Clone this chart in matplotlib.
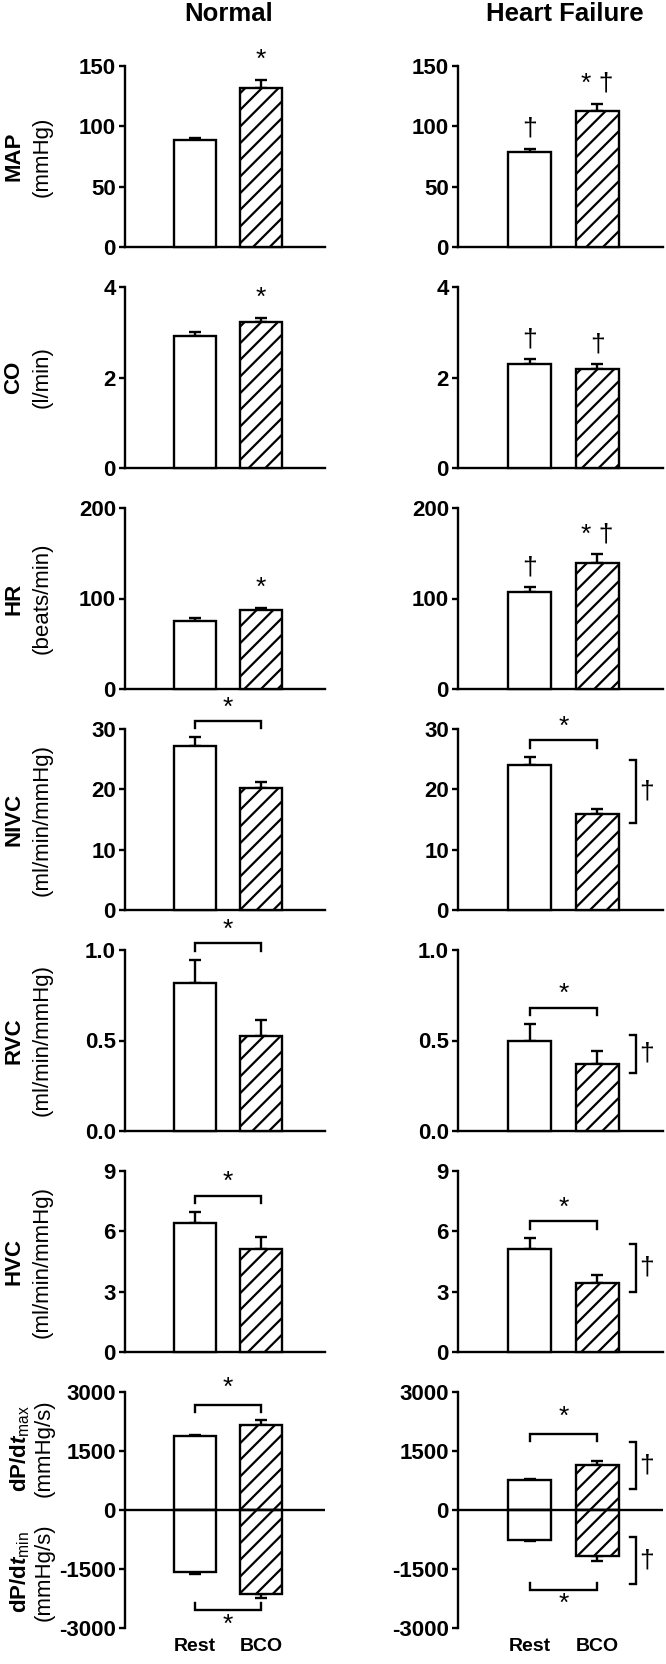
"""
Hemodynamic responses to BCO at rest in normal and heart failure animals.
Two columns (Normal / Heart Failure) of paired Rest vs BCO bar panels.
"""
import matplotlib
import matplotlib.pyplot as plt

matplotlib.use('Agg')

plt.rcParams['font.family'] = 'Liberation Sans'
plt.rcParams['mathtext.fontset'] = 'custom'
plt.rcParams['mathtext.rm'] = 'Liberation Sans'
plt.rcParams['mathtext.bf'] = 'Liberation Sans:bold'
plt.rcParams['mathtext.it'] = 'Liberation Sans:italic'
plt.rcParams['mathtext.bfit'] = 'Liberation Sans:bold:italic'
plt.rcParams['hatch.linewidth'] = 1.6

# ---- data ----
variables = ['MAP', 'CO', 'HR', 'NIVC', 'RVC', 'HVC']
units = ['(mmHg)', '(l/min)', '(beats/min)', '(ml/min/mmHg)', '(ml/min/mmHg)', '(ml/min/mmHg)']
y_max = [150, 4, 200, 30, 1.0, 9]
y_ticks = [[0, 50, 100, 150], [0, 2, 4], [0, 100, 200], [0, 10, 20, 30],
           [0.0, 0.5, 1.0], [0, 3, 6, 9]]
y_ticklabels = [['0', '50', '100', '150'], ['0', '2', '4'], ['0', '100', '200'],
                ['0', '10', '20', '30'], ['0.0', '0.5', '1.0'], ['0', '3', '6', '9']]

normal_rest = [88.5, 2.91, 74.6, 27.2, 0.82, 6.40]
normal_rest_err = [2.0, 0.10, 4.0, 1.4, 0.126, 0.57]
normal_bco = [131.5, 3.23, 87.1, 20.3, 0.525, 5.11]
normal_bco_err = [7.0, 0.09, 2.2, 0.9, 0.087, 0.62]

hf_rest = [79.0, 2.30, 107.4, 24.0, 0.50, 5.10]
hf_rest_err = [2.5, 0.11, 5.0, 1.4, 0.09, 0.58]
hf_bco = [112.7, 2.19, 138.7, 15.9, 0.372, 3.44]
hf_bco_err = [6.0, 0.10, 10.0, 0.8, 0.068, 0.38]

# markers above the bars ('*' vs rest, '†' vs normal)
normal_rest_marks = ['', '', '', '', '', '']
normal_bco_marks = ['*', '*', '*', '', '', '']
hf_rest_marks = ['†', '†', '†', '', '', '']
hf_bco_marks = ['* †', '†', '* †', '', '', '']
# bracketed Rest vs BCO (*) and bracketed HF response vs normal (†)
rest_bco_bracket = [False, False, False, True, True, True]
hf_response_bracket = [False, False, False, True, True, True]

# dP/dt panel: [normal, heart failure]
dpdt_max_rest = [1870, 775]
dpdt_max_rest_err = [40, 25]
dpdt_max_bco = [2170, 1136]
dpdt_max_bco_err = [127, 100]
dpdt_min_rest = [-1570, -757]
dpdt_min_rest_err = [65, 40]
dpdt_min_bco = [-2130, -1177]
dpdt_min_bco_err = [110, 126]
dpdt_ticks = [-3000, -1500, 0, 1500, 3000]
dpdt_bracket_max = [2680, 1936]
dpdt_bracket_min = [-2550, -2035]

groups = ['Rest', 'BCO']
columns = ['Normal', 'Heart Failure']

# ---- layout (pixels of a 666 x 1664 canvas) ----
W, H = 666, 1664
col_left = [125, 458]
col_width = [200, 205]
row_top = [66 + 221 * i for i in range(6)] + [1392]
row_height = [181] * 6 + [236]
X_REST, X_BCO, BAR_W = 0.35, 0.68, 0.21
LW = 1.7
TICK_FS = 16
LABEL_FS = 16
MARK_FS = 19


def make_axes(fig, col, row):
    rect = [col_left[col] / W, 1 - (row_top[row] + row_height[row]) / H,
            col_width[col] / W, row_height[row] / H]
    ax = fig.add_axes(rect)
    ax.set_xlim(0, 1)
    for side in ('top', 'right'):
        ax.spines[side].set_visible(False)
    for side in ('left', 'bottom'):
        ax.spines[side].set_linewidth(LW)
    ax.tick_params(axis='y', direction='out', length=4, width=LW, pad=2.5,
                   labelsize=TICK_FS)
    ax.tick_params(axis='x', length=0)
    ax.set_xticks([])
    return ax


def draw_pair(ax, rest, rest_err, bco, bco_err):
    for x, val, err, hatch in ((X_REST, rest, rest_err, ''), (X_BCO, bco, bco_err, '//')):
        yerr = [[0], [err]] if val >= 0 else [[err], [0]]
        ax.errorbar([x], [val], yerr=yerr, fmt='none', ecolor='black',
                    elinewidth=LW, capsize=4.5, capthick=LW, zorder=2, clip_on=False)
        ax.bar([x], [val], BAR_W, color='white', edgecolor='black', linewidth=LW,
               hatch=hatch, zorder=3, clip_on=False)


def sig_bracket(ax, y, leg, star_y):
    ax.plot([X_REST, X_REST, X_BCO, X_BCO], [y - leg, y, y, y - leg],
            color='black', lw=LW, clip_on=False, solid_joinstyle='miter')
    ax.text((X_REST + X_BCO) / 2, star_y, '*', ha='center', va='center',
            fontsize=MARK_FS, clip_on=False)


def dagger_bracket(ax, y_top, y_bot):
    ax.plot([0.838, 0.87, 0.87, 0.838], [y_top, y_top, y_bot, y_bot],
            color='black', lw=LW, clip_on=False, solid_joinstyle='miter')
    ax.text(0.92, (y_top + y_bot) / 2, '†', ha='center', va='center',
            fontsize=MARK_FS, clip_on=False)


fig = plt.figure(figsize=(W / 100, H / 100), dpi=100)

col_data = [
    (normal_rest, normal_rest_err, normal_bco, normal_bco_err, normal_rest_marks, normal_bco_marks),
    (hf_rest, hf_rest_err, hf_bco, hf_bco_err, hf_rest_marks, hf_bco_marks),
]

for col, (rest, rest_err, bco, bco_err, rest_marks, bco_marks) in enumerate(col_data):
    for row in range(6):
        ax = make_axes(fig, col, row)
        ymax = y_max[row]
        ax.set_ylim(0, ymax)
        ax.set_yticks(y_ticks[row])
        ax.set_yticklabels(y_ticklabels[row], fontweight='bold')
        draw_pair(ax, rest[row], rest_err[row], bco[row], bco_err[row])

        for x, val, err, mark in ((X_REST, rest[row], rest_err[row], rest_marks[row]),
                                  (X_BCO, bco[row], bco_err[row], bco_marks[row])):
            if mark:
                ax.text(x, val + err + 0.11 * ymax, mark, ha='center', va='center',
                        fontsize=MARK_FS, clip_on=False)

        if rest_bco_bracket[row]:
            top = max(rest[row] + rest_err[row], bco[row] + bco_err[row])
            y_line = top + 0.09 * ymax
            sig_bracket(ax, y_line, 0.04 * ymax, y_line + 0.075 * ymax)

        if col == 1 and hf_response_bracket[row]:
            dagger_bracket(ax, rest[row] + 0.03 * ymax, bco[row] - 0.05 * ymax)

        if col == 0:
            yc = 1 - (row_top[row] + row_height[row] / 2) / H
            fig.text(14 / W, yc, variables[row], rotation=90, ha='center', va='center',
                     fontsize=LABEL_FS, fontweight='bold')
            fig.text(42 / W, yc, units[row], rotation=90, ha='center', va='center',
                     fontsize=LABEL_FS)

    # dP/dt panel
    ax = make_axes(fig, col, 6)
    ax.spines['bottom'].set_visible(False)
    ax.set_ylim(-3000, 3000)
    ax.set_yticks(dpdt_ticks)
    ax.set_yticklabels([str(t) for t in dpdt_ticks], fontweight='bold')
    ax.axhline(0, color='black', lw=LW, zorder=4)
    draw_pair(ax, dpdt_max_rest[col], dpdt_max_rest_err[col],
              dpdt_max_bco[col], dpdt_max_bco_err[col])
    draw_pair(ax, dpdt_min_rest[col], dpdt_min_rest_err[col],
              dpdt_min_bco[col], dpdt_min_bco_err[col])
    sig_bracket(ax, dpdt_bracket_max[col], 180, dpdt_bracket_max[col] + 420)
    sig_bracket(ax, dpdt_bracket_min[col], -180, dpdt_bracket_min[col] - 360)
    if col == 1:
        dagger_bracket(ax, dpdt_max_bco[col] + 590, dpdt_max_bco[col] - 590)
        dagger_bracket(ax, dpdt_min_bco[col] + 500, dpdt_min_bco[col] - 700)

    ax.set_xticks([X_REST, X_BCO])
    ax.set_xticklabels(groups, fontweight='bold', fontsize=14)
    ax.tick_params(axis='x', length=0, pad=7)

    # column titles
    fig.text((col_left[col] + col_width[col] * 0.52) / W, 1 - 14 / H, columns[col],
             ha='center', va='center', fontsize=18.5, fontweight='bold')

# dP/dt axis labels (left column only)
for y_px, sub in ((1448, 'max'), (1572, 'min')):
    yc = 1 - y_px / H
    fig.text(20 / W, yc, r'$\mathbf{dP/d}\mathbfit{t}_{\mathrm{%s}}$' % sub, rotation=90,
             ha='center', va='center', fontsize=LABEL_FS)
    fig.text(44 / W, yc, '(mmHg/s)', rotation=90, ha='center', va='center',
             fontsize=LABEL_FS)

fig.savefig('out.png', dpi=100)
